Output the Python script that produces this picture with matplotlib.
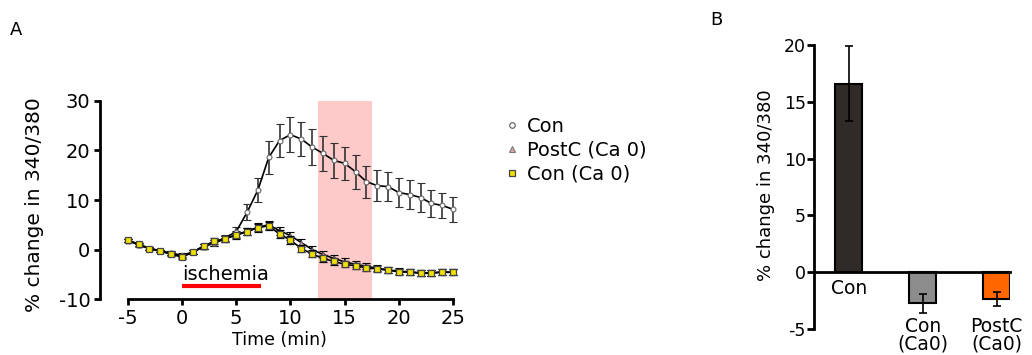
import numpy as np
import matplotlib
matplotlib.use("Agg")
import matplotlib.pyplot as plt
from matplotlib.lines import Line2D

plt.rcParams['font.family'] = ['DejaVu Sans']
plt.rcParams['axes.unicode_minus'] = False

# ---- panel A data: % change in 340/380 vs time ----
time_min = list(range(-5, 26))
con = [1.9, 0.9, 0.2, -0.3, -0.8, -1.3, -0.6, 0.7, 1.4, 2.4, 3.6, 7.5, 12.0, 18.6, 22.0,
       23.2, 22.3, 20.7, 19.4, 18.0, 17.4, 15.7, 13.7, 12.9, 12.7, 11.5, 11.1, 10.5, 9.3, 8.9, 8.1]
con_err = [0.3, 0.3, 0.3, 0.3, 0.4, 0.4, 0.4, 0.5, 0.6, 0.6, 1.0, 1.6, 2.5, 3.3, 3.4,
           3.5, 3.5, 3.6, 3.5, 3.5, 3.3, 3.4, 3.2, 3.1, 2.9, 2.9, 3.0, 2.9, 2.8, 2.6, 2.5]
postc_ca0 = [1.8, 1.0, 0.3, -0.3, -0.7, -1.2, -0.5, 0.6, 1.3, 2.2, 3.0, 3.7, 4.5, 5.0, 3.8,
             2.8, 1.4, 0.0, -1.0, -1.8, -2.5, -3.0, -3.4, -3.8, -4.1, -4.4, -4.5, -4.7, -4.7, -4.5, -4.6]
postc_ca0_err = [0.3, 0.3, 0.3, 0.3, 0.4, 0.4, 0.4, 0.5, 0.6, 0.6, 0.7, 0.7, 0.8, 0.8, 0.8,
                 0.8, 0.8, 0.8, 0.7, 0.7, 0.7, 0.6, 0.6, 0.6, 0.6, 0.6, 0.6, 0.6, 0.6, 0.6, 0.6]
con_ca0 = [1.9, 1.1, 0.2, -0.3, -1.0, -1.5, -0.6, 0.7, 1.7, 2.2, 2.9, 3.6, 4.4, 4.8, 3.1,
           1.9, 0.2, -0.9, -1.8, -2.4, -3.0, -3.3, -3.7, -3.9, -4.2, -4.5, -4.6, -4.8, -4.8, -4.6, -4.6]
con_ca0_err = [0.3, 0.3, 0.3, 0.3, 0.4, 0.4, 0.4, 0.5, 0.6, 0.6, 0.7, 0.7, 0.8, 0.8, 0.8,
               0.8, 0.8, 0.7, 0.7, 0.7, 0.6, 0.6, 0.6, 0.6, 0.6, 0.6, 0.6, 0.6, 0.6, 0.6, 0.6]
ischemia_start, ischemia_end, ischemia_y = 0, 7.3, -7.4
window_start, window_end = 12.5, 17.5

# ---- panel B data ----
groups = ["Con", "Con\n(Ca0)", "PostC\n(Ca0)"]
group_means = [16.6, -2.75, -2.35]
group_err = [3.3, 0.8, 0.6]
group_colors = ["#302a28", "#8c8c8c", "#ff6600"]

fig = plt.figure(figsize=(10.32, 3.55), dpi=100)

# ---------- panel A ----------
ax = fig.add_axes([0.0969, 0.1577, 0.3475, 0.5648])
ax.axvspan(window_start, window_end, ymin=0, ymax=40 / 40.5, color="#fdc9c9", lw=0, zorder=0)

ax.errorbar(time_min, con, yerr=con_err, color="black", lw=1.2, marker="o", ms=3.5,
            mfc="white", mec="#666666", mew=0.8, ecolor="#333333", elinewidth=1.2,
            capsize=3, capthick=1.2, zorder=3)
ax.errorbar(time_min, postc_ca0, yerr=postc_ca0_err, color="black", lw=1.2, marker="^", ms=3.5,
            mfc="#e6a6a6", mec="#666666", mew=0.8, ecolor="black", elinewidth=1.2,
            capsize=3, capthick=1.2, zorder=3)
ax.errorbar(time_min, con_ca0, yerr=con_ca0_err, color="black", lw=1.2, marker="s", ms=4.5,
            mfc="#f0e000", mec="#444444", mew=0.9, ecolor="black", elinewidth=1.2,
            capsize=3, capthick=1.2, zorder=4)

ax.plot([ischemia_start, ischemia_end], [ischemia_y, ischemia_y], color="#ff0000", lw=3,
        solid_capstyle="butt")
ax.text(ischemia_start, ischemia_y + 0.5, "ischemia", fontsize=14, ha="left", va="bottom")

ax.set_xlim(-7.55, 25.5)
ax.set_ylim(-10, 30.5)
ax.set_xticks(range(-5, 26, 5))
ax.set_yticks(range(-10, 31, 10))
ax.spines["top"].set_visible(False)
ax.spines["right"].set_visible(False)
ax.spines["left"].set_bounds(-10, 30)
ax.spines["bottom"].set_bounds(-5, 25)
ax.spines["left"].set_linewidth(2)
ax.spines["bottom"].set_linewidth(2)
ax.tick_params(width=2, length=4, labelsize=14, pad=3)
ax.set_xlabel("Time (min)", fontsize=12.5, labelpad=2)
ax.set_ylabel("% change in 340/380", fontsize=14.5)
ax.yaxis.set_label_coords(-0.155, 0.47)

handles = [
    Line2D([], [], ls="none", marker="o", ms=4, mfc="white", mec="#555555", mew=0.8),
    Line2D([], [], ls="none", marker="^", ms=4, mfc="#e6a6a6", mec="#777777", mew=0.8),
    Line2D([], [], ls="none", marker="s", ms=4.5, mfc="#f0e000", mec="#444444", mew=0.9),
]
fig.legend(handles, ["Con", "PostC (Ca 0)", "Con (Ca 0)"], loc="upper left",
           bbox_to_anchor=(496 / 1032, 1 - 107 / 355), frameon=False,
           fontsize=14, handlelength=0.6, handletextpad=0.5, labelspacing=0.25, borderpad=0)

fig.text(10 / 1032, 1 - 30 / 355, "A", fontsize=13, ha="left", va="center")

# ---------- panel B ----------
bx = fig.add_axes([0.7888, 0.0732, 0.19, 0.8096])
x = np.arange(len(groups))
bx.bar(x, group_means, width=0.36, color=group_colors, edgecolor="black", lw=1.5, zorder=2)
bx.errorbar(x, group_means, yerr=group_err, fmt="none", ecolor="black", elinewidth=1.2,
            capsize=3, capthick=1.2, zorder=3)
bx.set_xlim(-0.47, 2.18)
bx.set_ylim(-5, 20.3)
bx.set_yticks(range(-5, 21, 5))
bx.spines["top"].set_visible(False)
bx.spines["right"].set_visible(False)
bx.spines["left"].set_bounds(-5, 20)
bx.spines["left"].set_linewidth(2)
bx.spines["bottom"].set_position(("data", 0))
bx.spines["bottom"].set_linewidth(2)
bx.tick_params(axis="x", bottom=False, labelbottom=False)
bx.tick_params(axis="y", width=2, length=5, labelsize=12.5, pad=1)
bx.set_ylabel("% change in 340/380", fontsize=13, labelpad=6)
label_y = [-0.6, -3.9, -3.9]
for xi, name, ly in zip(x, groups, label_y):
    bx.text(xi, ly, name, ha="center", va="top", fontsize=13.5, linespacing=0.95, clip_on=False)

fig.text(710 / 1032, 1 - 20 / 355, "B", fontsize=13, ha="left", va="center")

fig.savefig("out.png", dpi=100)
